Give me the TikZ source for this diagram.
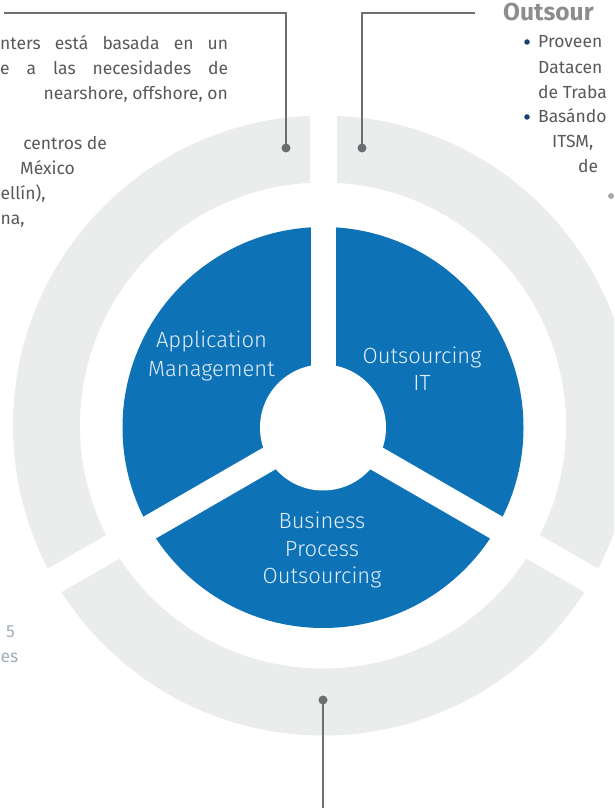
\documentclass[tikz,border=0pt]{standalone}
\usepackage{fontspec}
\setmainfont{Fira Sans}
\newfontfamily\lightfont{Fira Sans Light}
\usetikzlibrary{calc}
\definecolor{blueseg}{HTML}{0E72B7}
\definecolor{ringgray}{HTML}{EBECEC}
\definecolor{linegray}{HTML}{6D6E71}
\definecolor{bodygray}{HTML}{58595B}
\definecolor{headgray}{HTML}{8B8D8F}
\definecolor{navy}{HTML}{1B3F6E}
\definecolor{softgray}{HTML}{A7A9AC}
\definecolor{fadedblue}{HTML}{A3ADBA}
\definecolor{labeltext}{HTML}{E4EEF7}
\tikzset{
  body/.style={inner sep=0pt, font=\fontsize{17.5}{25}\selectfont, text=bodygray},
  seglabel/.style={inner sep=0pt, anchor=base, font=\lightfont\fontsize{22}{27.5}\selectfont, text=labeltext},
  head/.style={inner sep=0pt, anchor=base west, font=\bfseries\fontsize{24.5}{27}\selectfont, text=headgray},
  dot/.style={circle, fill=linegray, minimum size=9pt, inner sep=0pt},
  bulletdot/.style={circle, fill=navy, minimum size=5.5pt, inner sep=0pt},
  graydot/.style={circle, fill=softgray, minimum size=6pt, inner sep=0pt},
  conn/.style={draw=linegray, line width=1.3pt}
}
\begin{document}
\begin{tikzpicture}[x=1pt,y=1pt]
\useasboundingbox (0,0) rectangle (614,808);
\clip (0,0) rectangle (614,808);
\coordinate (O) at (323,380.5);
\coordinate (R) at (323,382.5);
% outer gray ring with three gaps
\fill[ringgray, even odd rule] (R) circle[radius=310] (R) circle[radius=243];
\foreach \a in {90,210,330} \draw[white, line width=27pt] (R) -- ++(\a:340);
% blue disk with three gaps and centre hole
\fill[blueseg] (O) circle[radius=200.5];
\foreach \a in {90,210,330} \draw[white, line width=25pt] (O) -- ++(\a:215);
\fill[white] (O) circle[radius=63];
% segment labels
\node[seglabel] (am1) at (211.5,460) {Application};
\node[seglabel] (am2) at (211.5,431) {Management};
\node[seglabel] (oi1) at (422,444) {Outsourcing};
\node[seglabel] (oi2) at (422,417.5) {IT};
\node[seglabel] (bp1) at (322,279) {Business};
\node[seglabel] (bp2) at (322,251.5) {Process};
\node[seglabel] (bp3) at (322,224) {Outsourcing};
% connectors
\node[dot] (d1) at (286,660) {};
\node[dot] (d2) at (362,660) {};
\node[dot] (d3) at (323,108) {};
\coordinate (k1) at (4,795);
\coordinate (k2) at (475,795);
\coordinate (k3) at (323,0);
\draw[conn] (d1.center) |- (k1);
\draw[conn] (d2.center) |- (k2);
\draw[conn] (d3.center) -- (k3);
% left text
\node[body, anchor=base west] (t1) at (0,758) {\makebox[228pt][s]{nters está basada en un}};
\node[body, anchor=base west] (t2) at (0,733) {\makebox[228pt][s]{e a las necesidades de}};
\node[body, anchor=base east] (t3) at (228,708) {nearshore, offshore, on};
\node[body, anchor=base east] (t4) at (107,658) {centros de};
\node[body, anchor=base east] (t5) at (75,633) {México};
\node[body, anchor=base west] (t6) at (0.5,608) {ellín),};
\node[body, anchor=base west] (t7) at (0.5,583) {na,};
% right text
\node[head] (h) at (503,787) {Outsour};
\node[bulletdot] (b1) at (527,766) {};
\node[bulletdot] (b2) at (527,691) {};
\node[body, anchor=base west] (r1) at (538,760) {Proveen};
\node[body, anchor=base west] (r2) at (538,734.5) {Datacen};
\node[body, anchor=base west] (r3) at (538,709.5) {de Traba};
\node[body, anchor=base west] (r4) at (538,685) {Basándo};
\node[body, anchor=base west] (r5) at (552,660) {ITSM,};
\node[body, anchor=base west] (r6) at (578,635.5) {de};
\node[graydot] (g) at (611,612) {};
% bottom-left text
\node[body, text=fadedblue, anchor=base east] (f1) at (15,170) {5};
\node[body, text=fadedblue, anchor=base west] (f2) at (0.5,145) {es};
\end{tikzpicture}
\end{document}
